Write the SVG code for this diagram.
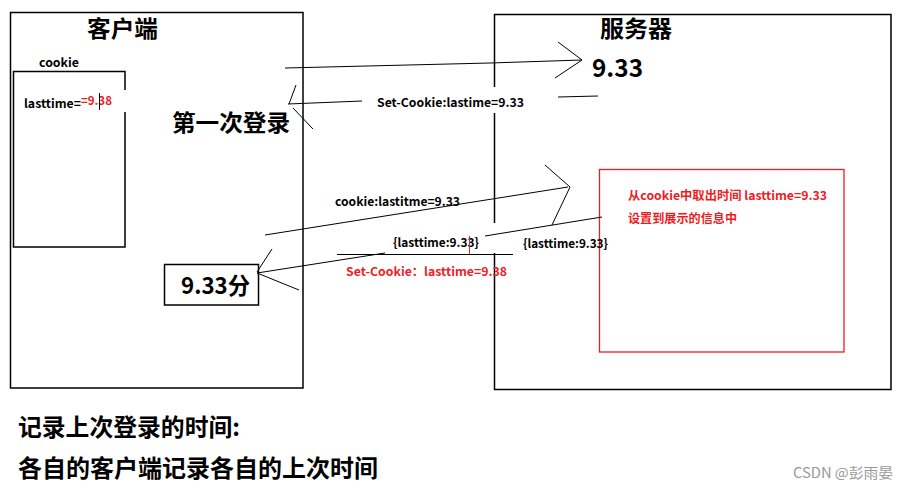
<svg xmlns="http://www.w3.org/2000/svg" width="909" height="489" viewBox="0 0 909 489">
<style>
text{font-family:"Noto Sans CJK SC","Microsoft YaHei","Noto Sans",sans-serif;font-weight:bold;fill:#000}
.t{font-size:23px}
.s{font-size:12px}
.r{fill:#ed1c24}
.box{fill:none;stroke:#000;stroke-width:1.5}
.rbox{fill:none;stroke:#ed1c24;stroke-width:1.3}
.ln{fill:none;stroke:#000;stroke-width:1}
</style>
<rect width="909" height="489" fill="#fff"/>
<g id="client">
<rect class="box" x="10.5" y="12.5" width="292.5" height="375.5"/>
<text class="t" x="87" y="37" textLength="71" lengthAdjust="spacingAndGlyphs">客户端</text>
<text class="t" x="172" y="131" textLength="118" lengthAdjust="spacingAndGlyphs">第一次登录</text>
</g>
<g id="cookie">
<path class="box" d="M125,90 V71.5 H13.5 V247 H125 V112"/>
<text class="s" x="39" y="67" textLength="40" lengthAdjust="spacingAndGlyphs">cookie</text>
<text class="s" x="24" y="108" textLength="57" lengthAdjust="spacingAndGlyphs">lasttime=</text>
<text class="s r" x="81" y="105" textLength="31" lengthAdjust="spacingAndGlyphs">=9.38</text>
<line class="ln" x1="99.5" y1="93" x2="99.5" y2="110"/>
</g>
<g id="shown">
<rect class="box" x="164.5" y="264.5" width="94" height="40.5"/>
<text class="t" x="181" y="294" textLength="69" lengthAdjust="spacingAndGlyphs">9.33分</text>
</g>
<g id="server">
<path class="box" d="M494.5,87 V14.5 H891 V389.5 H494.5 V253 M494.5,223 V113"/>
<text class="t" x="600" y="37" textLength="72" lengthAdjust="spacingAndGlyphs">服务器</text>
<text x="592" y="77" style="font-size:25px" textLength="51" lengthAdjust="spacingAndGlyphs">9.33</text>
</g>
<g id="info">
<rect class="rbox" x="599.5" y="169.5" width="244.5" height="182.5"/>
<text class="s r" x="628" y="200" textLength="199" lengthAdjust="spacingAndGlyphs">从cookie中取出时间 lasttime=9.33</text>
<text class="s r" x="628" y="223" textLength="109" lengthAdjust="spacingAndGlyphs">设置到展示的信息中</text>
</g>
<g id="connectors">
<polyline class="ln" points="285,68 490,63 582,60"/>
<polyline class="ln" points="558,42 582,60 555,78"/>
<line class="ln" x1="288" y1="104" x2="362" y2="101"/>
<line class="ln" x1="296" y1="85" x2="289" y2="104"/>
<line class="ln" x1="293" y1="108" x2="313" y2="129"/>
<line class="ln" x1="558" y1="97" x2="598" y2="96"/>
<text class="s" x="377" y="107" textLength="147" lengthAdjust="spacingAndGlyphs">Set-Cookie:lastime=9.33</text>
<line class="ln" x1="265" y1="235" x2="568" y2="187"/>
<polyline class="ln" points="545,165 570,187 552,225"/>
<line class="ln" x1="485" y1="236" x2="602" y2="217"/>
<text class="s" x="335" y="206" textLength="125" lengthAdjust="spacingAndGlyphs">cookie:lastitme=9.33</text>
<line class="ln" x1="337" y1="254.5" x2="513" y2="254.5"/>
<line class="ln" x1="257" y1="273" x2="385" y2="253"/>
<line class="ln" x1="272" y1="249" x2="257" y2="272"/>
<line class="ln" x1="257" y1="273" x2="299" y2="290"/>
<text class="s" x="393" y="247" textLength="86" lengthAdjust="spacingAndGlyphs">{lasttime:9.33}</text>
<line x1="469.5" y1="236" x2="469.5" y2="254" stroke="#ed1c24" stroke-width="1"/>
<text class="s" x="523" y="248" textLength="85" lengthAdjust="spacingAndGlyphs">{lasttime:9.33}</text>
<text class="s r" x="346" y="276" textLength="161" lengthAdjust="spacingAndGlyphs">Set-Cookie：lasttime=9.38</text>
</g>
<g id="notes">
<text style="font-size:24px" x="18" y="436" textLength="222" lengthAdjust="spacingAndGlyphs">记录上次登录的时间:</text>
<text style="font-size:24px" x="18" y="477" textLength="360" lengthAdjust="spacingAndGlyphs">各自的客户端记录各自的上次时间</text>
<text x="793" y="478" style="font-size:14px;font-weight:normal;fill:#999" textLength="100" lengthAdjust="spacingAndGlyphs">CSDN @彭雨晏</text>
</g>
</svg>
